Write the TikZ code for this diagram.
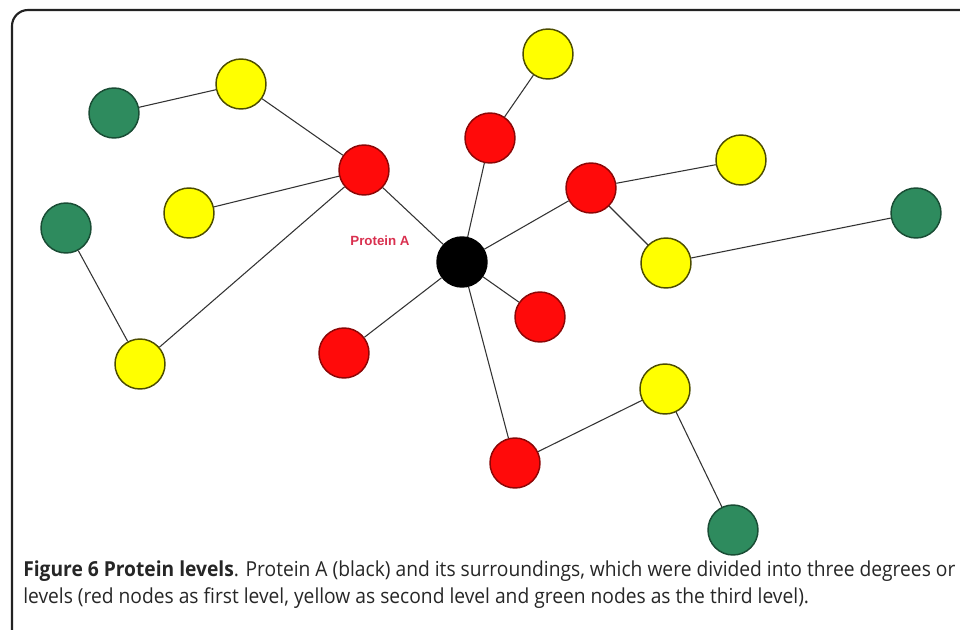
\documentclass[tikz,border=0pt]{standalone}
\usepackage{fontspec}
\setmainfont{Open Sans}
\newfontfamily\labelfont{Liberation Sans}
\definecolor{nodegreen}{HTML}{2E8B5E}
\definecolor{nodeyellow}{HTML}{FFFF00}
\definecolor{nodered}{HTML}{FF0A0A}
\definecolor{labelred}{HTML}{D9304F}
\definecolor{edgegray}{HTML}{333333}
\definecolor{framegray}{HTML}{222222}
\tikzset{
  protein/.style={circle, draw=#1!55!black, line width=1.1pt, minimum size=37.5pt, inner sep=0pt},
  greennode/.style={protein=nodegreen, fill=nodegreen},
  yellownode/.style={protein=nodeyellow, fill=nodeyellow, draw=black!70!nodeyellow},
  rednode/.style={protein=nodered, fill=nodered},
  blacknode/.style={protein=black, fill=black, draw=black},
  link/.style={draw=edgegray, line width=0.8pt},
  captionline/.style={anchor=base west, inner sep=0pt, font=\fontsize{15.5pt}{18pt}\selectfont, text=black!85}
}
\begin{document}
\begin{tikzpicture}[x=0.75pt, y=-0.75pt]
\useasboundingbox (0,0) rectangle (960,629);
% frame
\draw[framegray, line width=1.6pt, rounded corners=12pt] (12,640) -- (12,10) -- (965,10);
% nodes
\node[greennode] (g1) at (114,113) {};
\node[yellownode] (y1) at (241,84) {};
\node[rednode] (rA) at (364,170) {};
\node[yellownode] (y2) at (189,213) {};
\node[greennode] (g2) at (66,228) {};
\node[yellownode] (y3) at (140,364) {};
\node[rednode] (rB) at (490,138) {};
\node[yellownode] (y4) at (548,54) {};
\node[rednode] (rC) at (591,188) {};
\node[yellownode] (y5) at (741,160) {};
\node[yellownode] (y6) at (666,263) {};
\node[greennode] (g3) at (916,213) {};
\node[blacknode] (bk) at (462,262) {};
\node[rednode] (rD) at (540,317) {};
\node[rednode] (rE) at (344,353) {};
\node[yellownode] (y7) at (665,389) {};
\node[rednode] (rF) at (515,463) {};
\node[greennode] (g4) at (733,530) {};
% edges
\path[link] (g1) -- (y1) (y1) -- (rA) (y2) -- (rA) (y3) -- (rA) (g2) -- (y3)
  (rA) -- (bk) (rB) -- (bk) (rB) -- (y4) (rC) -- (bk) (rC) -- (y5) (rC) -- (y6)
  (y6) -- (g3) (bk) -- (rD) (bk) -- (rE) (bk) -- (rF) (rF) -- (y7) (y7) -- (g4);
% label
\node[anchor=center, inner sep=0pt, text=labelred, font=\labelfont\bfseries\fontsize{10pt}{12pt}\selectfont] (lbl) at (380,241) {Protein A};
% caption
\node[captionline] (cap1) at (23,576) {\scalebox{0.93}[1]{\textbf{Figure 6 Protein levels}. Protein A (black) and its surroundings, which were divided into three degrees or}};
\node[captionline] (cap2) at (23,603) {\scalebox{0.93}[1]{levels (red nodes as first level, yellow as second level and green nodes as the third level).}};
\end{tikzpicture}
\end{document}
